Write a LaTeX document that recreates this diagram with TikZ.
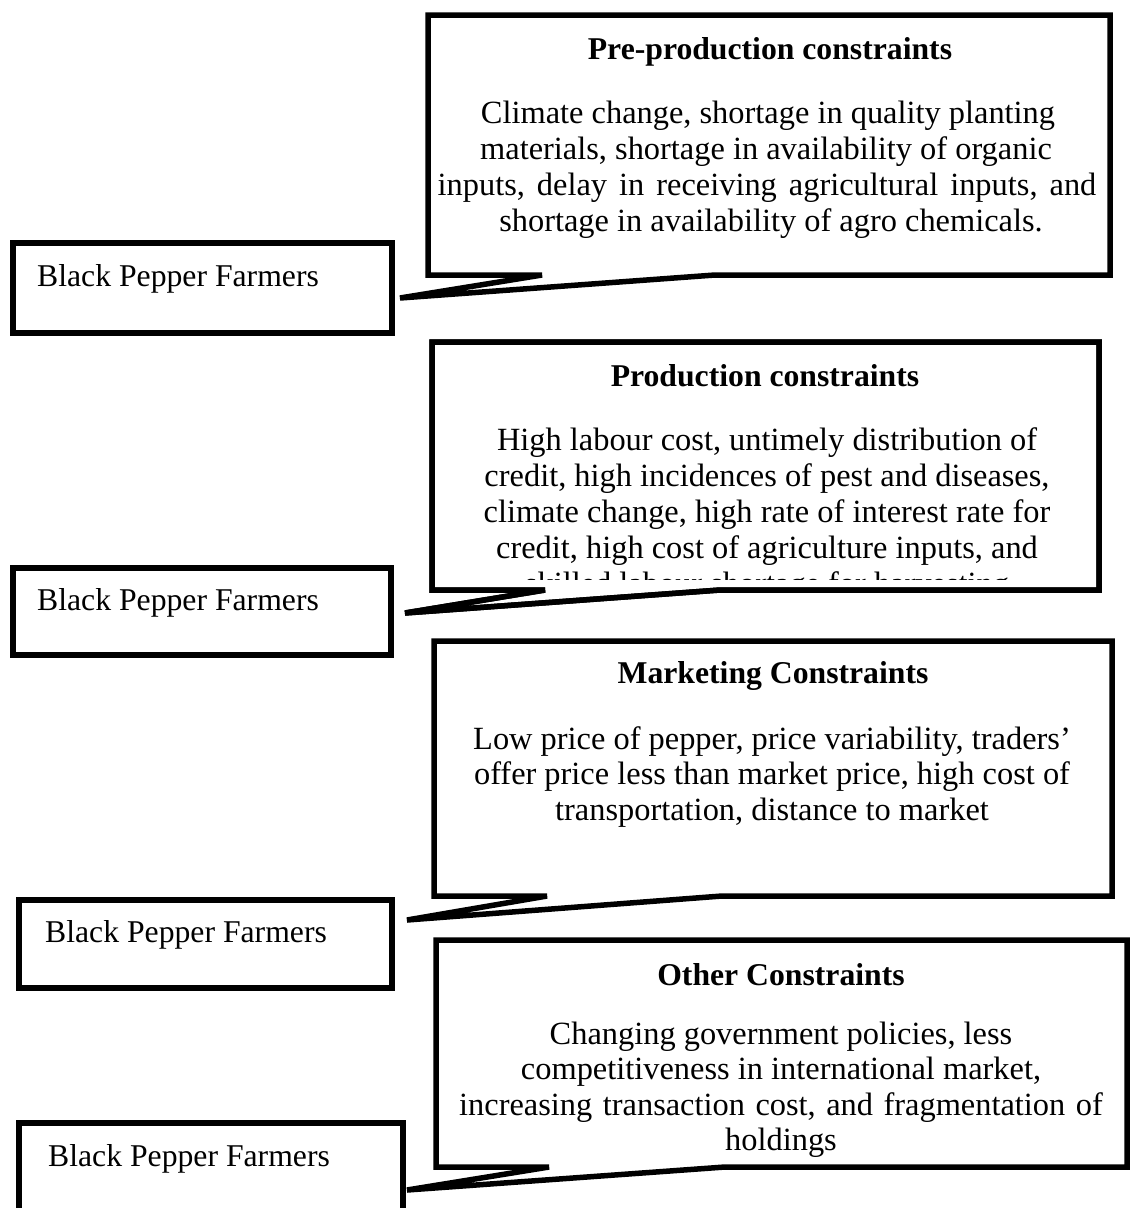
\documentclass[tikz,border=0pt]{standalone}
\usepackage{fontspec}
\setmainfont{Liberation Serif}
\begin{document}
\begin{tikzpicture}[x=1pt,y=-1pt,
  outline/.style={draw=black,line width=5.5pt,fill=white},
  txt/.style={inner sep=0pt,anchor=base,font=\fontsize{32.4}{36}\selectfont},
  ttl/.style={inner sep=0pt,anchor=base,font=\fontsize{31.7}{36}\selectfont\bfseries},
  farmtxt/.style={inner sep=0pt,anchor=base west,font=\fontsize{31.7}{36}\selectfont}]
\useasboundingbox[fill=white] (0,0) rectangle (1131,1208);

% ---------- farmer boxes ----------
\draw[outline] (13,243) rectangle (392,333);
\node[farmtxt] (f1) at (37,286) {Black Pepper Farmers};
\draw[outline] (13,568) rectangle (391,655);
\node[farmtxt] (f2) at (37,610) {Black Pepper Farmers};
\draw[outline] (19,900) rectangle (392,988);
\node[farmtxt] (f3) at (45,942) {Black Pepper Farmers};
\draw[outline] (19,1123) rectangle (403,1230);
\node[farmtxt] (f4) at (48,1166) {Black Pepper Farmers};

% ---------- callout 1 ----------
\coordinate (t1) at (400,298);
\draw[outline] (428,15) -- (1110,15) -- (1110,275) -- (715,275) -- (t1) -- (542,275) -- (428,275) -- cycle;
\node[ttl] (h1) at (770,59) {Pre-production constraints};
\node[txt] (b1a) at (768,123) {Climate change, shortage in quality planting};
\node[txt] (b1b) at (766,159) {materials, shortage in availability of organic};
\node[txt] (b1c) at (767,195) {\spaceskip=12pt\relax inputs, delay in receiving agricultural inputs, and};
\node[txt] (b1d) at (771,231) {shortage in availability of agro chemicals.};

% ---------- callout 2 (last line runs past the box and is cut off) ----------
\coordinate (t2) at (405,613);
\draw[outline] (432,342) -- (1099,342) -- (1099,590) -- (720,590) -- (t2) -- (545,590) -- (432,590) -- cycle;
\begin{scope}
  \clip (432,342) rectangle (1099,579);
  \node[ttl] (h2) at (765,386) {Production constraints};
  \node[txt] (b2a) at (767,450) {High labour cost, untimely distribution of};
  \node[txt] (b2b) at (767,486) {credit, high incidences of pest and diseases,};
  \node[txt] (b2c) at (767,522) {climate change, high rate of interest rate for};
  \node[txt] (b2d) at (767,558) {credit, high cost of agriculture inputs, and};
  \node[txt] (b2e) at (767,594) {skilled labour shortage for harvesting};
\end{scope}
\draw[draw=black,line width=5.5pt] (432,342) -- (1099,342) -- (1099,590) -- (720,590) -- (t2) -- (545,590) -- (432,590) -- cycle;

% ---------- callout 3 ----------
\coordinate (t3) at (407,920);
\draw[outline] (434,641) -- (1112,641) -- (1112,896) -- (722,896) -- (t3) -- (547,896) -- (434,896) -- cycle;
\node[ttl] (h3) at (773,683) {Marketing Constraints};
\node[txt] (b3a) at (772,749) {Low price of pepper, price variability, traders’};
\node[txt] (b3b) at (772,784) {offer price less than market price, high cost of};
\node[txt] (b3c) at (772,820) {transportation, distance to market};

% ---------- callout 4 ----------
\coordinate (t4) at (407,1190);
\draw[outline] (436,940) -- (1127,940) -- (1127,1167) -- (725,1167) -- (t4) -- (549,1167) -- (436,1167) -- cycle;
\node[ttl] (h4) at (781,985) {Other Constraints};
\node[txt] (b4a) at (781,1044) {Changing government policies, less};
\node[txt] (b4b) at (781,1079) {competitiveness in international market,};
\node[txt] (b4c) at (781,1115) {\spaceskip=10.5pt\relax increasing transaction cost, and fragmentation of};
\node[txt] (b4d) at (781,1150) {holdings};
\end{tikzpicture}
\end{document}
